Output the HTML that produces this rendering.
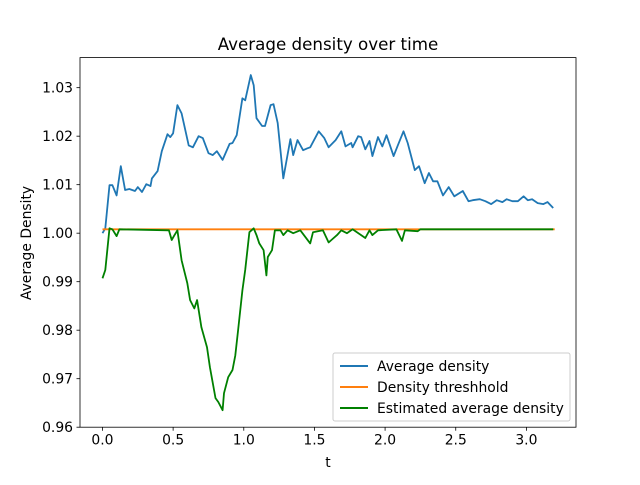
<!DOCTYPE html>
<html><head><meta charset="utf-8"><style>
html,body{margin:0;padding:0;background:#fff}
svg text{font-family:"DejaVu Sans","Liberation Sans",sans-serif;fill:#000}
</style></head><body>
<svg id="chart" width="640" height="480" xmlns="http://www.w3.org/2000/svg">
<rect width="640" height="480" fill="#fff"/>
<text x="328" y="50" font-size="16.7" text-anchor="middle">Average density over time</text>
<text x="328" y="467" font-size="13.9" text-anchor="middle">t</text>
<text transform="translate(31,243) rotate(-90)" font-size="13.9" text-anchor="middle">Average Density</text>
<g id="plot"></g>
<g id="axes"></g>
<g>
<rect x="333" y="353" width="237" height="68" rx="2" fill="#fff" fill-opacity="0.8" stroke="#ccc"/>
<line x1="340" y1="366" x2="368" y2="366" stroke="#1f77b4" stroke-width="2"/>
<text x="377" y="371" font-size="13.9">Average density</text>
<line x1="340" y1="387" x2="368" y2="387" stroke="#ff7f0e" stroke-width="2"/>
<text x="377" y="392" font-size="13.9">Density threshhold</text>
<line x1="340" y1="408" x2="368" y2="408" stroke="#008000" stroke-width="2"/>
<text x="377" y="413" font-size="13.9">Estimated average density</text>
</g>
</svg>
<script>
const avgT=[0,0.02,0.05,0.07,0.10,0.13,0.16,0.19,0.23,0.25,0.28,0.31,0.34,0.35,0.39,0.42,0.46,0.48,0.50,0.53,0.56,0.61,0.64,0.68,0.71,0.75,0.78,0.81,0.85,0.90,0.92,0.95,0.99,1.01,1.05,1.07,1.09,1.13,1.15,1.19,1.21,1.24,1.28,1.33,1.35,1.38,1.42,1.45,1.47,1.53,1.57,1.60,1.65,1.69,1.72,1.76,1.77,1.81,1.83,1.86,1.89,1.91,1.95,1.98,2.01,2.06,2.09,2.13,2.16,2.21,2.24,2.28,2.31,2.34,2.37,2.41,2.45,2.49,2.55,2.59,2.62,2.67,2.71,2.75,2.79,2.83,2.86,2.90,2.94,2.98,3.01,3.04,3.08,3.12,3.15,3.19];
const avgV=[1.0000,1.0010,1.0099,1.0099,1.0078,1.0138,1.0089,1.0091,1.0087,1.0095,1.0085,1.0101,1.0097,1.0113,1.0128,1.0169,1.0204,1.0198,1.0206,1.0264,1.0247,1.0181,1.0177,1.0200,1.0196,1.0165,1.0161,1.0169,1.0151,1.0184,1.0186,1.0202,1.0278,1.0274,1.0326,1.0305,1.0237,1.0221,1.0221,1.0264,1.0266,1.0227,1.0113,1.0194,1.0161,1.0192,1.0171,1.0175,1.0177,1.0210,1.0196,1.0177,1.0192,1.0210,1.0179,1.0186,1.0177,1.0200,1.0198,1.0173,1.0190,1.0159,1.0198,1.0179,1.0202,1.0159,1.0181,1.0210,1.0186,1.0130,1.0138,1.0103,1.0124,1.0107,1.0107,1.0078,1.0095,1.0076,1.0087,1.0066,1.0068,1.0070,1.0066,1.0060,1.0068,1.0064,1.0070,1.0066,1.0066,1.0076,1.0068,1.0070,1.0062,1.0060,1.0064,1.0052];
const thrT=[0,3.2];
const thrV=[1.0008,1.0008];
const estT=[0,0.02,0.05,0.07,0.10,0.12,0.47,0.49,0.51,0.53,0.56,0.60,0.62,0.65,0.67,0.70,0.74,0.76,0.80,0.82,0.85,0.86,0.89,0.92,0.94,0.96,0.99,1.01,1.04,1.07,1.09,1.11,1.14,1.16,1.17,1.20,1.22,1.26,1.28,1.31,1.35,1.40,1.47,1.49,1.56,1.60,1.62,1.66,1.69,1.73,1.77,1.86,1.89,1.91,1.95,2.08,2.12,2.14,2.23,2.25,3.19];
const estV=[0.9907,0.9924,1.0010,1.0008,0.9994,1.0008,1.0006,0.9986,0.9996,1.0006,0.9944,0.9897,0.9862,0.9845,0.9862,0.9806,0.9765,0.9724,0.9660,0.9652,0.9635,0.9670,0.9703,0.9718,0.9748,0.9800,0.9882,0.9924,1.0002,1.0010,0.9996,0.9979,0.9965,0.9913,0.9951,0.9965,1.0006,1.0006,0.9996,1.0006,1.0000,1.0006,0.9979,1.0002,1.0006,0.9981,0.9986,0.9996,1.0006,1.0000,1.0008,0.9990,1.0006,0.9996,1.0006,1.0008,0.9984,1.0006,1.0004,1.0008,1.0008];
const xTicks=[0,0.5,1.0,1.5,2.0,2.5,3.0];
const xTickLabels=["0.0","0.5","1.0","1.5","2.0","2.5","3.0"];
const yTicks=[0.96,0.97,0.98,0.99,1.00,1.01,1.02,1.03];
const yTickLabels=["0.96","0.97","0.98","0.99","1.00","1.01","1.02","1.03"];

const L=80,R=576,T=57.6,B=427.2;
const X0=-0.159,X1=3.351,Y0=0.96,Y1=1.0362;
function sx(t){return L+(t-X0)/(X1-X0)*(R-L);}
function sy(v){return B-(v-Y0)/(Y1-Y0)*(B-T);}
const NS="http://www.w3.org/2000/svg";
const plot=document.getElementById('plot');
const axes=document.getElementById('axes');
function line(ts,vs,color,name){
  const p=document.createElementNS(NS,'path');
  p.setAttribute('d',ts.map((t,i)=>(i?'L':'M')+sx(t).toFixed(1)+','+sy(vs[i]).toFixed(1)).join(''));
  p.setAttribute('fill','none');p.setAttribute('stroke',color);p.setAttribute('stroke-width','1.8');
  p.setAttribute('stroke-linejoin','round');
  
  
  plot.appendChild(p);
}
line(avgT,avgV,'#1f77b4','average-density-line');
line(thrT,thrV,'#ff7f0e','density-threshold-line');
line(estT,estV,'#008000','estimated-density-line');
const frame=document.createElementNS(NS,'rect');
frame.setAttribute('x',L);frame.setAttribute('y',T);frame.setAttribute('width',R-L);frame.setAttribute('height',B-T);
frame.setAttribute('fill','none');frame.setAttribute('stroke','#000');frame.setAttribute('stroke-width','0.8');


axes.appendChild(frame);
xTicks.forEach((t,i)=>{
  const x=sx(t);
  const tk=document.createElementNS(NS,'line');
  tk.setAttribute('x1',x);tk.setAttribute('x2',x);tk.setAttribute('y1',B);tk.setAttribute('y2',B+3.5);tk.setAttribute('stroke','#000');tk.setAttribute('stroke-width','0.8');
  
  
  axes.appendChild(tk);
  const tx=document.createElementNS(NS,'text');
  tx.setAttribute('x',x);tx.setAttribute('y',B+17.5);tx.setAttribute('font-size','13.9');tx.setAttribute('text-anchor','middle');
  tx.textContent=xTickLabels[i];
  
  
  axes.appendChild(tx);
});
yTicks.forEach((v,i)=>{
  const y=sy(v);
  const tk=document.createElementNS(NS,'line');
  tk.setAttribute('x1',L-3.5);tk.setAttribute('x2',L);tk.setAttribute('y1',y);tk.setAttribute('y2',y);tk.setAttribute('stroke','#000');tk.setAttribute('stroke-width','0.8');
  
  
  axes.appendChild(tk);
  const tx=document.createElementNS(NS,'text');
  tx.setAttribute('x',L-7);tx.setAttribute('y',y+5);tx.setAttribute('font-size','13.9');tx.setAttribute('text-anchor','end');
  tx.textContent=yTickLabels[i];
  
  
  axes.appendChild(tx);
});
</script>
</body></html>
